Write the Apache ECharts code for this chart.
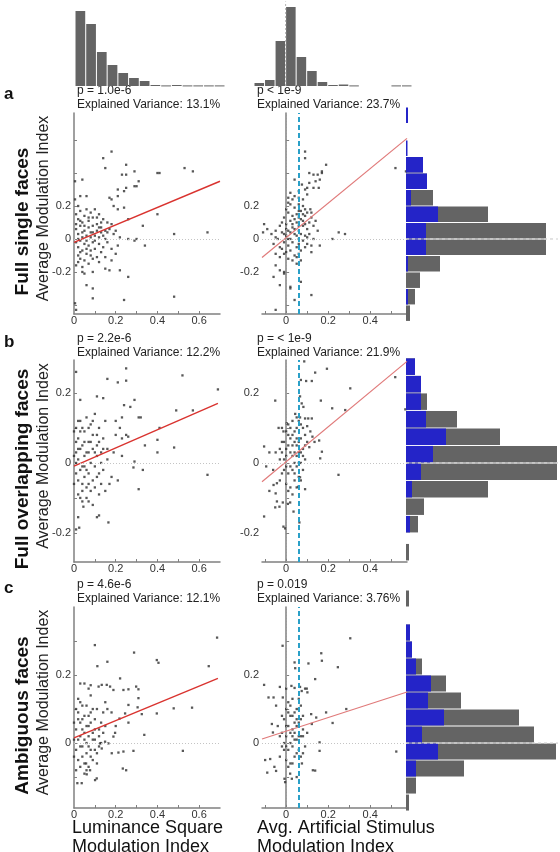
<!DOCTYPE html>
<html><head><meta charset="utf-8">
<script src="https://cdn.jsdelivr.net/npm/echarts@6/dist/echarts.min.js"></script>
<style>html,body{margin:0;padding:0;background:#fff}#c{width:560px;height:852px}</style>
</head><body><div id="c"></div>
<script>
// ---------------- DATA ----------------
// top histograms (x distributions)
const lumBinLo = [0,0.05,0.1,0.15,0.2,0.25,0.3,0.35,0.4,0.45,0.5,0.55,0.6,0.65];
const lumBinW = 0.05;
const lumCounts = [75,62,34,21,13,8,5,1,0.6,1,0.6,0.6,0.6,0.6];
const artBinLo = [-0.15,-0.1,-0.05,0,0.05,0.1,0.15,0.2,0.25,0.3,0.35,0.4,0.45,0.5,0.55];
const artBinW = 0.05;
const artCounts = [3,6,45,79,29,15,4,1,1.5,0.6,0,0,0,0.6,0.6];

// right histograms (y distributions): bin lower edges, total (gray), subset (blue)
const histA_lo = [-0.5,-0.4,-0.3,-0.2,-0.1,0,0.1,0.2,0.3,0.4,0.5,0.6,0.7];
const histA_w = 0.1;
const histA_gray = [4,9,14,34,140,140,82,27,21,17,0,0,0];
const histA_blue = [0,2,0,2,20,20,32,5,21,17,1.5,0,2];
const histB_lo = [-0.28,-0.25,-0.2,-0.15,-0.1,-0.05,0,0.05,0.1,0.15,0.2,0.25];
const histB_w = 0.05;
const histB_gray = [3,0,12,18,82,151,151,94,51,21,15,9];
const histB_blue = [0,0,4,0,6,15,27,40,20,15,15,9];
const histC_lo = [-0.2,-0.15,-0.1,-0.05,0,0.05,0.1,0.15,0.2,0.25,0.3,0.35,0.4];
const histC_w = 0.05;
const histC_gray = [3,10,58,150,128,113,55,40,16,6,4,0,3];
const histC_blue = [0,0,10,32,16,38,22,25,10,6,4,0,0];

// regression fits (endpoints)
const fitAL = [[0,-0.02],[0.7,0.35]];
const fitAM = [[-0.115,-0.112],[0.575,0.61]];
const fitBL = [[0,-0.009],[0.69,0.17]];
const fitBM = [[-0.115,-0.054],[0.575,0.29]];
const fitCL = [[0,0.015],[0.69,0.19]];
const fitCM = [[-0.115,0.012],[0.575,0.15]];
const cyanX = [0.063, 0.062, 0.058];

const statsText = [
  ['p = 1.0e-6','Explained Variance: 13.1%','p < 1e-9','Explained Variance: 23.7%'],
  ['p = 2.2e-6','Explained Variance: 12.2%','p = < 1e-9','Explained Variance: 21.9%'],
  ['p = 4.6e-6','Explained Variance: 12.1%','p = 0.019','Explained Variance: 3.76%']
];
const rowNames = ['Full single faces','Full overlapping faces','Ambiguous faces'];
const panelLetters = ['a','b','c'];
const yTitle = 'Average Modulation Index';
const xTitleL = ['Luminance Square','Modulation Index'];
const xTitleM = ['Avg. Artificial Stimulus','Modulation Index'];

// scatter points
const aL = [[0.18,0.53],[0.14,0.49],[0.15,0.43],[0.25,0.45],[0.23,0.39],[0.25,0.39],[0.29,0.41],[0.40,0.40],[0.41,0.40],[0.53,0.43],[0.57,0.41],[0.31,0.35],[0.30,0.32],[0.29,0.32],[0.21,0.30],[0.24,0.29],[0.25,0.31],[0.21,0.26],[0.17,0.25],[0.18,0.24],[0.19,0.20],[0.21,0.18],[0.24,0.19],[0.26,0.12],[0.40,0.15],[0.33,0.08],[0.48,0.03],[0.64,0.04],[0.26,0.00],[0.29,-0.01],[0.30,0.00],[0.34,-0.04],[0.04,0.36],[0.005,0.35],[0.03,0.26],[0.06,0.26],[0.005,0.24],[0.02,0.20],[0.18,-0.13],[0.17,-0.19],[0.15,-0.18],[0.09,-0.20],[0.04,-0.20],[0.05,-0.21],[0.02,-0.14],[0.22,-0.19],[0.26,-0.23],[0.06,-0.28],[0.09,-0.30],[0.09,-0.36],[0.24,-0.37],[0.48,-0.35],[0.005,-0.39],[0.01,-0.43],
[0.01,0.15],[0.02,0.12],[0.03,0.17],[0.04,0.10],[0.05,0.14],[0.06,0.18],[0.07,0.11],[0.08,0.16],[0.09,0.13],[0.10,0.18],[0.11,0.09],[0.12,0.15],[0.13,0.07],[0.14,0.12],[0.15,0.05],[0.16,0.10],[0.01,0.06],[0.02,0.03],[0.03,0.08],[0.04,0.01],[0.05,0.05],[0.06,0.02],[0.07,0.07],[0.08,0.04],[0.09,0.08],[0.10,0.02],[0.11,0.05],[0.12,0.01],[0.13,0.04],[0.15,0.00],[0.17,0.06],[0.19,0.03],[0.01,-0.02],[0.02,-0.05],[0.03,-0.01],[0.04,-0.07],[0.05,-0.03],[0.06,-0.09],[0.07,-0.04],[0.08,-0.10],[0.09,-0.02],[0.10,-0.06],[0.11,-0.11],[0.12,-0.03],[0.13,-0.08],[0.14,-0.05],[0.16,-0.02],[0.18,-0.06],[0.20,-0.09],[0.02,-0.10],[0.03,-0.12],[0.05,-0.13],[0.07,-0.15],[0.09,-0.12],[0.12,-0.14],[0.15,-0.11],[0.01,0.09],[0.03,0.11],[0.05,0.08],[0.07,0.13],[0.09,0.04],[0.11,0.13],[0.13,0.10],[0.14,0.02],[0.16,0.04],[0.18,0.09],[0.20,0.05],[0.22,0.01],[0.21,-0.04],[0.02,0.00],[0.04,0.04],[0.06,-0.01],[0.08,0.01],[0.10,-0.01],[0.12,0.07],[0.03,-0.08],[0.06,-0.06],[0.08,-0.07],[0.01,-0.16],[0.04,-0.17]];
const aM = [[0.09,0.53],[0.09,0.49],[0.19,0.45],[0.11,0.40],[0.13,0.39],[0.15,0.39],[0.17,0.40],[0.17,0.41],[0.16,0.36],[0.04,0.36],[0.14,0.35],[0.11,0.34],[0.155,0.31],[0.13,0.31],[0.10,0.31],[0.52,0.43],[0.57,0.41],[0.06,0.29],[0.04,0.26],[0.01,0.25],[0.02,0.28],[0.03,0.24],[0.01,0.22],[0.075,0.33],[0.09,0.30],[0.06,0.25],[0.08,0.24],[0.10,0.27],[0.115,0.18],[0.09,0.18],[0.06,0.17],[0.10,0.16],[0.12,0.16],[0.25,0.04],[0.28,0.03],[0.22,0.00],[0.16,-0.04],[0.12,-0.04],[-0.105,0.09],[-0.09,0.06],[-0.11,0.04],[-0.07,0.03],[-0.05,0.01],[-0.05,0.05],[-0.05,-0.09],[-0.03,-0.11],[-0.06,-0.03],[-0.06,-0.23],[-0.03,-0.28],[-0.05,-0.16],[-0.03,-0.19],[-0.01,-0.21],[-0.01,-0.20],[0.02,-0.29],[0.02,-0.30],[0.04,-0.37],[0.12,-0.34],[-0.05,-0.43],[0.07,-0.26],[0.06,-0.09],[0.07,-0.13],[0.05,-0.11],
[0.00,0.02],[0.01,0.05],[0.02,0.00],[0.03,0.07],[0.04,0.03],[0.05,0.10],[0.06,0.05],[0.07,0.12],[0.08,0.08],[0.09,0.14],[0.10,0.06],[-0.01,-0.02],[-0.02,0.04],[-0.03,-0.05],[0.00,-0.08],[0.01,-0.04],[0.02,-0.07],[0.03,-0.02],[0.04,-0.10],[0.05,-0.05],[0.06,0.00],[0.07,0.03],[0.08,-0.01],[0.09,0.02],[0.10,-0.03],[0.11,0.10],[0.12,0.13],[0.13,0.08],[0.14,0.11],[0.15,0.05],[-0.02,0.10],[-0.01,0.13],[0.00,0.09],[0.01,0.16],[0.02,0.11],[0.03,0.14],[0.04,0.19],[0.05,0.15],[0.06,0.21],[0.07,0.17],[0.08,0.20],[-0.04,0.00],[-0.03,0.08],[0.00,0.18],[0.02,0.21],[0.04,0.12],[0.06,0.08],[0.08,0.11],[0.10,0.01],[0.03,-0.13],[0.01,-0.12],[-0.01,-0.09],[0.05,-0.15],[0.07,-0.07],[0.09,-0.05],[0.02,0.04],[0.04,0.06],[0.06,-0.03],[0.00,0.06],[-0.02,-0.06],[0.08,0.15],[0.09,0.09],[0.11,0.03],[0.13,0.00],[0.12,-0.08],[0.05,0.02],[0.03,0.09],[0.01,0.00],[-0.01,0.03],[0.06,0.13]];
const bL = [[0.01,0.26],[0.25,0.27],[0.16,0.24],[0.21,0.23],[0.25,0.235],[0.52,0.25],[0.69,0.21],[0.03,0.18],[0.11,0.19],[0.14,0.185],[0.29,0.18],[0.27,0.16],[0.24,0.165],[0.49,0.15],[0.57,0.15],[0.31,0.13],[0.32,0.13],[0.41,0.10],[0.34,0.05],[0.40,0.066],[0.40,0.03],[0.48,0.044],[0.29,0.004],[0.285,-0.013],[0.33,-0.02],[0.64,-0.034],[0.31,-0.075],[0.165,-0.17],[0.12,-0.15],[0.04,-0.11],[0.045,-0.125],[0.02,-0.155],[0.01,-0.19],[0.025,-0.185],[0.07,-0.11],[0.09,-0.12],[0.11,-0.155],[0.23,0.13],[0.25,0.08],[0.20,0.08],[0.23,0.07],[0.26,0.075],[0.20,0.12],[0.22,0.10],[0.19,0.03],[0.21,-0.05],[0.17,-0.06],[0.15,-0.08],[0.18,-0.04],[0.23,0.02],
[0.01,0.10],[0.02,0.07],[0.03,0.12],[0.04,0.05],[0.05,0.09],[0.06,0.13],[0.07,0.06],[0.08,0.11],[0.09,0.08],[0.10,0.14],[0.11,0.05],[0.12,0.10],[0.13,0.03],[0.14,0.07],[0.15,0.12],[0.16,0.04],[0.01,0.03],[0.02,0.01],[0.03,0.04],[0.04,-0.01],[0.05,0.02],[0.06,-0.02],[0.07,0.03],[0.08,0.00],[0.09,0.04],[0.10,-0.01],[0.11,0.02],[0.12,-0.03],[0.13,0.00],[0.14,-0.02],[0.01,-0.03],[0.02,-0.05],[0.03,-0.02],[0.04,-0.06],[0.05,-0.04],[0.06,-0.07],[0.07,-0.03],[0.08,-0.08],[0.09,-0.05],[0.10,-0.07],[0.11,-0.04],[0.12,-0.09],[0.13,-0.06],[0.01,0.06],[0.03,0.09],[0.05,0.06],[0.07,0.10],[0.09,0.12],[0.11,0.08],[0.02,-0.09],[0.04,-0.08],[0.06,-0.10],[0.00,0.02],[0.00,-0.06],[0.02,0.04],[0.08,0.06],[0.10,0.03],[0.12,0.06],[0.14,0.04],[0.16,0.01],[0.00,0.09],[0.02,0.12],[0.04,0.10],[0.06,0.03],[0.03,-0.10],[0.05,-0.01],[0.07,-0.06],[0.01,0.00]];
const bM = [[0.194,0.269],[0.138,0.258],[0.086,0.29],[0.07,0.237],[0.095,0.234],[0.122,0.234],[0.519,0.245],[0.305,0.213],[-0.052,0.178],[0.165,0.178],[0.219,0.156],[0.281,0.151],[0.567,0.153],[0.066,0.19],[0.074,0.17],[0.082,0.16],[0.043,0.14],[0.05,0.13],[0.066,0.13],[0.09,0.127],[0.105,0.127],[0.122,0.127],[0.003,0.113],[-0.02,0.10],[-0.036,0.10],[-0.013,0.09],[0.157,0.064],[0.17,0.032],[0.162,0.013],[0.249,-0.034],[-0.105,0.047],[-0.095,-0.01],[-0.08,0.03],[-0.062,-0.02],[-0.05,0.03],[-0.08,-0.08],[-0.05,-0.087],[-0.044,-0.058],[-0.06,-0.063],[0.09,-0.075],[0.066,-0.041],[0.058,-0.068],[-0.044,-0.11],[-0.016,-0.113],[0.008,-0.117],[0.019,-0.113],[-0.052,-0.127],[-0.032,-0.125],[0.035,-0.139],[-0.105,-0.153],[-0.013,-0.182],[-0.005,-0.187],[0.063,-0.17],[0.1,0.105],[0.115,0.09],[0.125,0.075],[0.135,0.06],[0.11,0.045],
[0.00,0.02],[0.01,0.05],[0.02,-0.01],[0.03,0.08],[0.04,0.03],[0.05,0.10],[0.06,0.06],[0.07,0.11],[0.08,0.04],[0.09,0.08],[-0.01,-0.02],[-0.02,0.03],[-0.03,-0.05],[0.00,-0.06],[0.01,-0.03],[0.02,-0.07],[0.03,-0.02],[0.04,-0.05],[0.05,-0.01],[0.06,0.00],[0.07,0.03],[0.08,-0.02],[0.09,0.01],[0.10,0.06],[-0.01,0.06],[0.00,0.09],[0.01,0.11],[0.02,0.07],[0.03,0.12],[0.04,0.09],[0.05,0.05],[0.06,0.12],[0.07,0.07],[0.08,0.10],[-0.03,0.01],[-0.02,-0.03],[0.00,0.04],[0.02,0.03],[0.04,0.00],[0.06,-0.04],[0.08,0.02],[0.01,-0.08],[0.03,-0.09],[0.05,-0.07],[0.07,-0.05],[-0.01,0.01],[0.02,0.10],[0.04,0.06],[0.06,0.03],[0.03,0.02],[0.05,0.07],[0.07,0.00],[0.09,0.05],[-0.02,0.06],[0.00,-0.01],[0.01,0.08],[0.03,0.05],[0.05,0.02],[-0.03,0.04],[0.04,-0.03]];
const cL = [[0.10,0.288],[0.288,0.266],[0.686,0.31],[0.112,0.226],[0.16,0.239],[0.397,0.244],[0.405,0.236],[0.646,0.226],[0.221,0.19],[0.03,0.175],[0.05,0.175],[0.07,0.16],[0.08,0.17],[0.118,0.166],[0.133,0.171],[0.157,0.171],[0.173,0.166],[0.189,0.156],[0.237,0.156],[0.261,0.158],[0.298,0.166],[0.309,0.158],[0.309,0.132],[0.305,0.105],[0.478,0.102],[0.566,0.104],[0.397,0.087],[0.325,0.085],[0.261,0.112],[0.245,0.087],[0.261,0.06],[0.218,0.072],[0.337,0.024],[0.197,0.03],[0.189,0.019],[0.213,-0.028],[0.237,-0.025],[0.285,-0.023],[0.522,-0.023],[0.125,-0.001],[0.133,-0.016],[0.149,0.004],[0.165,-0.001],[0.181,-0.03],[0.058,-0.06],[0.077,-0.08],[0.016,-0.118],[0.037,-0.118],[0.101,-0.109],[0.109,-0.104],[0.061,-0.092],[0.234,-0.075],[0.25,-0.08],[0.08,0.14],[0.15,0.12],[0.16,0.10],[0.18,0.09],[0.20,0.05],
[0.01,0.10],[0.02,0.07],[0.03,0.12],[0.04,0.04],[0.05,0.08],[0.06,0.11],[0.07,0.05],[0.08,0.09],[0.09,0.03],[0.10,0.07],[0.11,0.10],[0.12,0.04],[0.13,0.06],[0.14,0.09],[0.01,0.04],[0.02,0.01],[0.03,0.06],[0.04,-0.01],[0.05,0.03],[0.06,0.00],[0.07,0.02],[0.08,-0.02],[0.09,0.01],[0.10,0.04],[0.11,-0.03],[0.12,0.02],[0.01,-0.02],[0.02,-0.05],[0.03,-0.01],[0.04,-0.04],[0.05,-0.06],[0.06,-0.03],[0.07,-0.07],[0.08,-0.04],[0.09,-0.05],[0.10,-0.02],[0.11,-0.06],[0.00,0.06],[0.00,-0.04],[0.02,0.09],[0.04,0.07],[0.06,0.05],[0.08,0.06],[0.10,0.01],[0.12,-0.01],[0.14,0.03],[0.01,-0.08],[0.03,-0.07],[0.05,-0.09],[0.07,0.08],[0.09,0.10],[0.03,0.02],[0.05,0.01],[0.07,-0.01],[0.13,0.00],[0.02,0.13],[0.04,0.11],[0.00,0.01],[0.06,-0.08],[0.15,0.05]];
const cM = [[0.305,0.308],[-0.017,0.286],[0.167,0.264],[0.17,0.242],[0.246,0.223],[0.106,0.234],[0.04,0.237],[0.138,0.188],[-0.105,0.171],[0.043,0.22],[-0.03,0.165],[0.0,0.16],[0.025,0.168],[0.04,0.162],[0.066,0.165],[0.074,0.153],[0.09,0.16],[0.098,0.16],[0.101,0.149],[-0.084,0.134],[-0.06,0.134],[-0.048,0.11],[-0.016,0.134],[0.19,0.09],[0.286,0.10],[0.119,0.085],[0.122,0.056],[0.143,0.075],[0.221,0.059],[0.159,0.002],[0.159,-0.023],[0.524,-0.025],[0.127,-0.08],[0.138,-0.081],[-0.068,0.056],[-0.063,0.031],[-0.076,-0.047],[-0.056,-0.07],[-0.048,-0.082],[-0.005,-0.115],[-0.008,-0.105],[0.019,-0.09],[0.027,-0.105],[-0.09,-0.087],[-0.1,-0.05],[0.08,0.02],[0.09,-0.01],[0.10,0.03],[0.075,-0.06],[0.05,-0.1],
[0.00,0.02],[0.01,0.05],[0.02,0.00],[0.03,0.08],[0.04,0.03],[0.05,0.10],[0.06,0.06],[0.07,0.11],[0.08,0.04],[-0.01,-0.02],[-0.02,0.03],[-0.03,-0.04],[0.00,-0.05],[0.01,-0.02],[0.02,-0.06],[0.03,-0.01],[0.04,-0.04],[0.05,0.01],[0.06,-0.02],[0.07,0.02],[0.08,-0.03],[-0.01,0.07],[0.00,0.10],[0.01,0.12],[0.02,0.08],[0.03,0.04],[0.04,0.09],[0.05,0.05],[0.06,0.10],[0.07,0.07],[-0.03,0.02],[-0.02,-0.01],[0.00,0.05],[0.02,0.03],[0.04,0.01],[0.06,0.02],[0.01,-0.07],[0.03,-0.06],[0.05,-0.03],[-0.01,0.00],[0.02,0.11],[0.04,0.06],[0.03,0.02],[0.05,0.07],[0.07,-0.04],[0.01,0.09],[-0.02,0.08],[0.00,-0.01],[0.03,0.13],[0.06,0.13],[-0.04,0.05],[0.08,0.08]];

// ---------------- LAYOUT / STYLE ----------------
const FONT = '"Liberation Sans", Arial, sans-serif';
const GRAY = '#646464', BLUE = '#2424c8', DOT = '#2e2e2e', AXIS = '#808080';
const rowsLayout = [
  {top:113, h:201, ymin:-0.455, ymax:0.764, ticks:[-0.4,-0.2,0,0.2,0.4,0.6], labels:[-0.2,0,0.2], txtY:91},
  {top:360, h:202, ymin:-0.283, ymax:0.294, ticks:[-0.2,-0.1,0,0.1,0.2], labels:[-0.2,0,0.2], txtY:339},
  {top:607, h:201, ymin:-0.191, ymax:0.40, ticks:[-0.1,0,0.1,0.2,0.3], labels:[0,0.2], txtY:585}
];
const rowData = [
  {L:aL, M:aM, fL:fitAL, fM:fitAM, lo:histA_lo, w:histA_w, g:histA_gray, b:histA_blue},
  {L:bL, M:bM, fL:fitBL, fM:fitBM, lo:histB_lo, w:histB_w, g:histB_gray, b:histB_blue},
  {L:cL, M:cM, fL:fitCL, fM:fitCM, lo:histC_lo, w:histC_w, g:histC_gray, b:histC_blue}
];

const grids = [], xAxes = [], yAxes = [], series = [], graphics = [];
function hidden(extra){ return Object.assign({show:false}, extra); }
function addGrid(g){ grids.push(g); return grids.length-1; }

function vHist(color){
  return function(params, api){
    const lo = api.value(0), hi = api.value(1), v = api.value(2);
    if (!v) return;
    const a = api.coord([lo, v]), b = api.coord([hi, 0]);
    return {type:'rect', shape:{x:a[0]+0.5, y:a[1], width:b[0]-a[0]-1, height:Math.max(b[1]-a[1],1)}, style:{fill:color}};
  };
}
function hHist(color){
  return function(params, api){
    const lo = api.value(0), hi = api.value(1), v = api.value(2);
    if (!v) return;
    const a = api.coord([0, hi]), b = api.coord([v, lo]);
    return {type:'rect', shape:{x:a[0], y:a[1]+0.5, width:Math.max(b[0]-a[0],1), height:b[1]-a[1]-1}, style:{fill:color}};
  };
}
const axisLbl = {fontSize:11, color:'#333', fontFamily:FONT};

// top histograms
[[75,150,0,0.7,lumBinLo,lumBinW,lumCounts,false],[254,158,-0.15,0.6,artBinLo,artBinW,artCounts,true]].forEach(t=>{
  const gi = addGrid({left:t[0], top:2, width:t[1], height:84});
  xAxes.push(hidden({type:'value', gridIndex:gi, min:t[2], max:t[3]}));
  yAxes.push(hidden({type:'value', gridIndex:gi, min:0, max:84}));
  const ai = xAxes.length-1;
  series.push({type:'custom', xAxisIndex:ai, yAxisIndex:ai, clip:false, renderItem:vHist(GRAY),
    data:t[4].map((lo,i)=>[lo, lo+t[5], t[6][i]])});
  if (t[7]) series.push({type:'line', xAxisIndex:ai, yAxisIndex:ai, z:5, symbol:'none', silent:true,
    data:[[0,0],[0,86]], lineStyle:{color:'#b4b4b4', width:1, type:[2,2]}});
});

rowsLayout.forEach((R, r)=>{
  const D = rowData[r];
  const yAx = (gi)=>({type:'value', gridIndex:gi, min:R.ymin, max:R.ymax,
    axisLine:{show:true, lineStyle:{color:AXIS, width:1.5}},
    axisTick:{show:true, inside:true, length:3, lineStyle:{color:AXIS}, customValues:R.ticks},
    axisLabel:Object.assign({customValues:R.labels, margin:3}, axisLbl), splitLine:{show:false}});
  // left scatter
  let gi = addGrid({left:74, top:R.top, width:146, height:R.h});
  xAxes.push({type:'value', gridIndex:gi, min:0, max:0.7,
    axisLine:{show:true, onZero:false, lineStyle:{color:AXIS, width:1.5}},
    axisTick:{show:true, inside:true, length:3, lineStyle:{color:AXIS}, customValues:[0.1,0.2,0.3,0.4,0.5,0.6]},
    axisLabel:Object.assign({customValues:[0,0.2,0.4,0.6], margin:1}, axisLbl), splitLine:{show:false}});
  yAxes.push(yAx(gi));
  let ai = xAxes.length-1;
  series.push({type:'scatter', xAxisIndex:ai, yAxisIndex:ai, symbol:'rect', symbolSize:2.3, itemStyle:{color:DOT}, data:D.L,
    markLine:{silent:true, symbol:'none', label:{show:false}, lineStyle:{color:'#c4c4c4', type:[1,2], width:1}, data:[{yAxis:0}]}});
  series.push({type:'line', xAxisIndex:ai, yAxisIndex:ai, z:4, symbol:'none', silent:true, data:D.fL, lineStyle:{color:'#d9332f', width:1.4}});
  // middle scatter
  gi = addGrid({left:262, top:R.top, width:145, height:R.h});
  xAxes.push({type:'value', gridIndex:gi, min:-0.115, max:0.575,
    axisLine:{show:true, onZero:false, lineStyle:{color:AXIS, width:1.5}},
    axisTick:{show:true, inside:true, length:3, lineStyle:{color:AXIS}, customValues:[-0.1,0,0.1,0.2,0.3,0.4,0.5]},
    axisLabel:Object.assign({customValues:[0,0.2,0.4], margin:1}, axisLbl), splitLine:{show:false}});
  yAxes.push(yAx(gi));
  ai = xAxes.length-1;
  series.push({type:'scatter', xAxisIndex:ai, yAxisIndex:ai, symbol:'rect', symbolSize:2.3, itemStyle:{color:DOT}, data:D.M,
    markLine:{silent:true, symbol:'none', label:{show:false}, data:[
      {yAxis:0, lineStyle:{color:'#c4c4c4', type:[1,2], width:1}},
      {xAxis:0, lineStyle:{color:'#9a9a9a', type:[1,2], width:1}},
      {xAxis:cyanX[r], lineStyle:{color:'#2aa0c8', type:[5,3], width:2}}
    ]}});
  series.push({type:'line', xAxisIndex:ai, yAxisIndex:ai, z:4, symbol:'none', silent:true, data:D.fM, lineStyle:{color:'#e07a7a', width:1.2}});
  // right histogram
  gi = addGrid({left:406, top:R.top, width:150, height:R.h});
  xAxes.push(hidden({type:'value', gridIndex:gi, min:0, max:150}));
  yAxes.push(hidden({type:'value', gridIndex:gi, min:R.ymin, max:R.ymax}));
  ai = xAxes.length-1;
  series.push({type:'custom', xAxisIndex:ai, yAxisIndex:ai, clip:false, z:2, renderItem:hHist(GRAY), data:D.lo.map((lo,i)=>[lo, lo+D.w, D.g[i]])});
  series.push({type:'custom', xAxisIndex:ai, yAxisIndex:ai, clip:false, z:3, renderItem:hHist(BLUE), data:D.lo.map((lo,i)=>[lo, lo+D.w, D.b[i]])});
  series.push({type:'line', xAxisIndex:ai, yAxisIndex:ai, z:5, symbol:'none', silent:true, data:[[0,0],[152,0]], lineStyle:{color:'#d0d0d0', width:1.2, type:[3,3]}});

  // texts
  const st = statsText[r];
  graphics.push({type:'text', x:77, y:R.txtY, style:{text:st[0], font:'12px '+FONT, fill:'#222', textVerticalAlign:'middle'}});
  graphics.push({type:'text', x:77, y:R.txtY+14, style:{text:st[1], font:'12px '+FONT, fill:'#222', textVerticalAlign:'middle'}});
  graphics.push({type:'text', x:257, y:R.txtY, style:{text:st[2], font:'12px '+FONT, fill:'#222', textVerticalAlign:'middle'}});
  graphics.push({type:'text', x:257, y:R.txtY+14, style:{text:st[3], font:'12px '+FONT, fill:'#222', textVerticalAlign:'middle'}});
  graphics.push({type:'text', x:4, y:R.txtY+3, style:{text:panelLetters[r], font:'bold 17px '+FONT, fill:'#111', textVerticalAlign:'middle'}});
  const cy = R.top + R.h/2;
  graphics.push({type:'text', x:23, y:cy+8, rotation:Math.PI/2, style:{text:rowNames[r], font:'bold 19px '+FONT, fill:'#111', textAlign:'center', textVerticalAlign:'middle'}});
  graphics.push({type:'text', x:44, y:cy-5, rotation:Math.PI/2, style:{text:yTitle, font:'16px '+FONT, fill:'#222', textAlign:'center', textVerticalAlign:'middle'}});
});
graphics.push({type:'text', x:72, y:828, style:{text:xTitleL[0], font:'18px '+FONT, fill:'#111', textVerticalAlign:'middle'}});
graphics.push({type:'text', x:72, y:847, style:{text:xTitleL[1], font:'18px '+FONT, fill:'#111', textVerticalAlign:'middle'}});
graphics.push({type:'text', x:257, y:828, style:{text:xTitleM[0], font:'18px '+FONT, fill:'#111', textVerticalAlign:'middle'}});
graphics.push({type:'text', x:257, y:847, style:{text:xTitleM[1], font:'18px '+FONT, fill:'#111', textVerticalAlign:'middle'}});

const chart = echarts.init(document.getElementById('c'), null, {renderer:'canvas'});
chart.setOption({animation:false, backgroundColor:'#fff', grid:grids, xAxis:xAxes, yAxis:yAxes, series:series, graphic:graphics});
</script></body></html>
